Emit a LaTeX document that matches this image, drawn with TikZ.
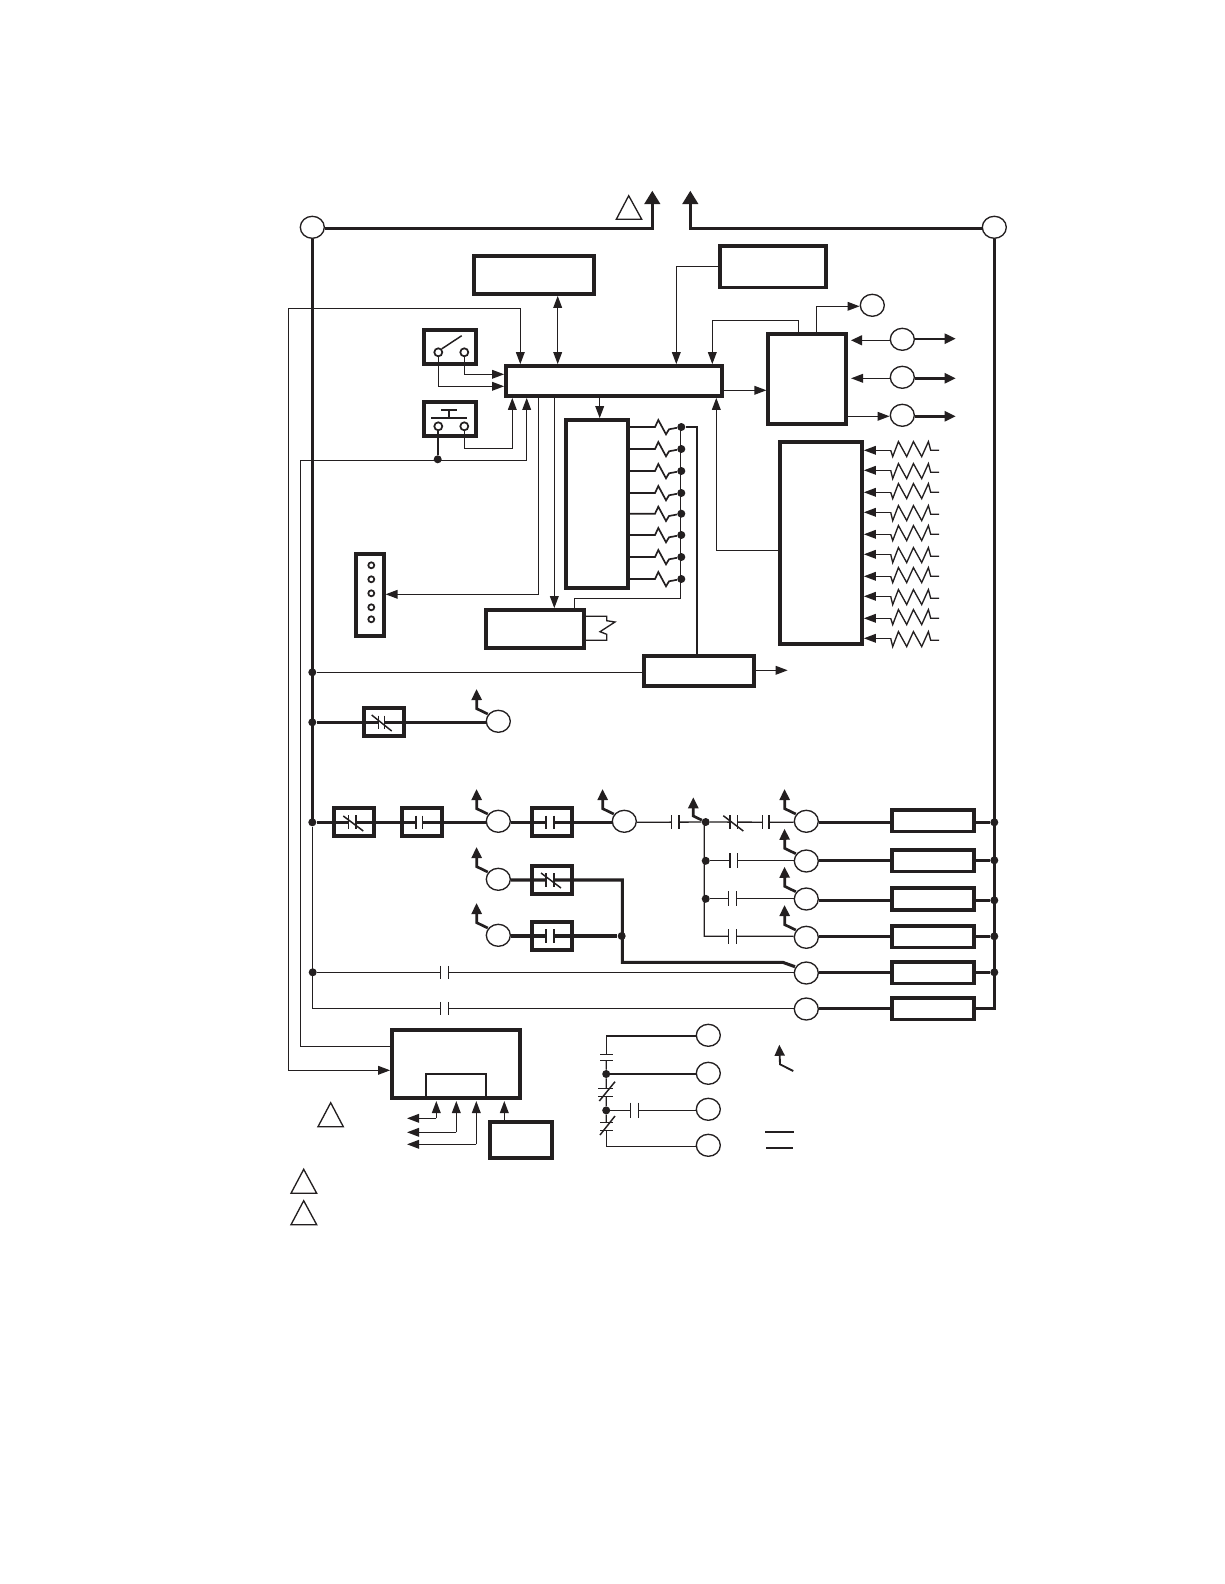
\documentclass[tikz,border=0pt]{standalone}
\usetikzlibrary{arrows.meta,calc,shapes.geometric}
\definecolor{ink}{HTML}{231F20}
\tikzset{
  thinw/.style={line width=1pt,line join=miter},
  midw/.style={line width=1.25pt},
  busw/.style={line width=2.3pt,line join=miter},
  tipsm/.tip={Triangle[length=9pt,width=6.5pt]},
  tipbig/.tip={Triangle[length=10pt,width=11.5pt]},
  tipmid/.tip={Triangle[length=8.3pt,width=7.5pt]},
  hbox/.style={draw=ink,line width=2.8pt,inner sep=0pt,rectangle},
  rbox/.style={draw=ink,line width=2.5pt,inner sep=0pt,rectangle},
  inbox/.style={draw=ink,line width=1.3pt,inner sep=0pt,rectangle},
  term/.style={ellipse,draw=ink,line width=1pt,fill=white,inner sep=0pt,minimum width=18pt,minimum height=16.5pt},
  pin/.style={circle,draw=ink,line width=1.3pt,fill=white,inner sep=0pt,minimum size=6pt},
  cpin/.style={circle,draw=ink,line width=1.3pt,fill=white,inner sep=0pt,minimum size=4.5pt},
  jdot/.style={circle,fill=ink,inner sep=0pt,minimum size=6pt},
  ctc/.style={line width=1.1pt},
  slash/.style={line width=1.1pt},
  tri/.style={draw=ink,line width=1pt,line join=miter}
}
\newcommand\boxnode[6]{\node[#1,minimum width={(#5-#3)*0.75pt},minimum height={(#6-#4)*0.75pt}] (#2) at ({(#3+#5)/2},{(#4+#6)/2}) {};}
% vertical-plate contact across a horizontal wire: x1 x2 y half-height
\newcommand\ctcv[4]{\fill[white] (#1,{#3-2.5}) rectangle (#2,{#3+2.5});
  \draw[ctc] (#1,{#3-#4}) -- (#1,{#3+#4}) (#2,{#3-#4}) -- (#2,{#3+#4});}
\newcommand\pigtail[1]{\draw[line width=2pt,line join=miter,-{tipmid}] ($(#1)+(-10.5,-7.3)$) -- ($(#1)+(-21.5,-12.6)$) -- ($(#1)+(-21.8,-32.3)$);}
\begin{document}
\begin{tikzpicture}[x=0.75pt,y=-0.75pt,color=ink]
\useasboundingbox (0,0) rectangle (1224,1584);
\fill[white] (0,0) rectangle (1224,1584);

% --- blocks
\boxnode{hbox}{display}{474}{256}{594}{294}
\boxnode{hbox}{eeprom}{720}{246}{826}{287.4}
\boxnode{hbox}{main}{506}{366}{722}{396}
\boxnode{rbox}{swa}{424}{330}{476}{364}
\boxnode{rbox}{swb}{424}{402}{476}{436}
\boxnode{hbox}{relay}{768.3}{334}{846}{423.7}
\boxnode{hbox}{inblk}{780}{442}{862}{644}
\boxnode{hbox}{drv}{566}{420}{627.7}{588}
\boxnode{hbox}{conn}{356}{554}{383.7}{636}
\boxnode{hbox}{lowbx}{486}{610}{584}{647.7}
\boxnode{hbox}{xfmr}{644}{656}{754}{685.7}
\boxnode{rbox}{kzero}{364}{708}{404}{736}
\boxnode{rbox}{ka}{334}{808}{374}{836}
\boxnode{rbox}{kb}{402}{808}{442}{836}
\boxnode{rbox}{kc}{532}{808}{572}{836}
\boxnode{rbox}{kd}{532}{866}{572}{894}
\boxnode{rbox}{ke}{532}{922}{572}{950}
\boxnode{hbox}{batt}{392}{1030}{519.7}{1098}
\boxnode{inbox}{inner}{426}{1074}{486}{1097}
\boxnode{hbox}{small}{490}{1122}{552}{1158}
\foreach \n/\ya/\yb in {h1/810/831.7,h2/850/871.7,h3/888/910,h4/926/947.7,h5/962/983.7,h6/998/1019.7}
  {\boxnode{rbox}{\n}{892}{\ya}{974}{\yb}}

% --- terminals
\node[term] (tl) at (312.3,227.3) {};
\node[term] (tr) at (994.3,227.3) {};
\node[term] (ra) at (872.3,305.3) {};
\node[term] (rb) at (902.3,339.3) {};
\node[term] (rc) at (902.3,377.3) {};
\node[term] (rd) at (902.3,415.3) {};
\node[term] (c0) at (498.3,721.3) {};
\node[term] (c1) at (498.3,821.3) {};
\node[term] (c2) at (624.3,821.3) {};
\node[term] (c3) at (498.3,879.3) {};
\node[term] (c4) at (498.3,935.3) {};
\node[term] (m1) at (806.3,821.3) {};
\node[term] (m2) at (806.3,861) {};
\node[term] (m3) at (806.3,899) {};
\node[term] (m4) at (806.3,937.3) {};
\node[term] (m5) at (806.3,973) {};
\node[term] (m6) at (806.3,1009) {};
\node[term] (l1) at (708.3,1035.3) {};
\node[term] (l2) at (708.3,1073.3) {};
\node[term] (l3) at (708.3,1109.3) {};
\node[term] (l4) at (708.3,1145.3) {};

% --- pins
\node[pin] (swa1) at (438.3,352.3) {};
\node[pin] (swa2) at (464.3,352.3) {};
\node[pin] (swb1) at (438.3,426.3) {};
\node[pin] (swb2) at (464.3,426.3) {};
\foreach \y in {565.3,579.3,593.3,607.3,619.3} \node[cpin] at (371.3,\y) {};

% --- junctions
\node[jdot] (ja) at (312.3,672.3) {};
\node[jdot] (jb) at (312.3,722.3) {};
\node[jdot] (jc) at (312.3,822.3) {};
\node[jdot] (jd) at (312.7,972.3) {};
\node[jdot] (je) at (437.7,459.3) {};
\node[jdot] (jf) at (621.7,936) {};
\node[jdot] (jg) at (705.7,822) {};
\node[jdot] (jh) at (705.7,860.8) {};
\node[jdot] (ji) at (705.7,898.8) {};
\node[jdot] (jl2) at (606.2,1074) {};
\node[jdot] (jl3) at (606.2,1110.4) {};
\foreach \y/\n in {822.3/r1,860.3/r2,900.3/r3,936.3/r4,972.3/r5} \node[jdot] (\n) at (994.3,\y) {};

% --- power buses
\coordinate (topl) at (652.3,190.7);
\coordinate (topr) at (690.3,190.7);
\draw[busw,-{tipbig}] (tl.east |- 0,228.3) -- (652.3,228.3) -- (topl);
\draw[busw,-{tipbig}] (tr.west |- 0,228.3) -- (690.3,228.3) -- (topr);
\draw[busw] (tl.south) -- (jc.center);
\draw[busw] (tr.south -| 994.7,0) -- (994.7,1009.5);

% --- rails and rungs
\draw[busw] (jb) -- (c0.west |- jb);
\draw[busw] (jc) -- (c1.west |- jc);
\draw[busw] (c1.east |- jc) -- (c2.west |- jc);
\draw[thinw] (jc) -- (312.3,1008.3) -- (m6.west |- 0,1008.3);
\draw[thinw] (ja) -- (xfmr.west |- ja);
\draw[thinw] (jd) -- (m5.west |- jd);
\draw[thinw] (c2.east |- jc) -- (jg) -- (m1.west |- jc);
\draw[thinw] (jg.center) ++(-1.4,0) -- (704.3,936.3) -- (m4.west |- 0,936.3);
\draw[thinw] (jh) -- (m2.west |- jh);
\draw[thinw] (ji) -- (m3.west |- ji);
\draw[busw] (c3.east |- 0,880) -- (622.3,880) -- (622.3,962.3) -- (782.7,962.3) -- (795,966.7);
\draw[busw] (c4.east |- jf) -- (jf);
\foreach \m/\b/\y/\r in {m1/h1/822.3/r1,m2/h2/860.3/r2,m3/h3/900.3/r3,m4/h4/936.3/r4,m5/h5/972.3/r5}{
  \draw[busw] (\m.east |- 0,\y) -- (\b.west |- 0,\y);
  \draw[busw] (\b.east |- 0,\y) -- (\r);
}
\draw[busw] (m6.east |- 0,1008.3) -- (h6.west |- 0,1008.3);
\draw[busw] (h6.east |- 0,1008.3) -- (994.7,1008.3);

% --- contacts
\ctcv{378.3}{384.3}{722.3}{6.8}
\draw[slash] (371.7,715) -- (391.7,731);
\ctcv{348.3}{356}{822.3}{7}
\draw[slash] (343.3,816) -- (363.3,831);
\ctcv{416}{422.7}{822.3}{6.8}
\ctcv{546}{554}{822.3}{6.8}
\ctcv{546}{554}{880}{6.8}
\draw[slash] (541,873) -- (561,888);
\ctcv{546}{554}{936}{6.8}
\ctcv{440.7}{448.7}{972.3}{6.4}
\ctcv{440.7}{448.7}{1008.3}{6.4}
\ctcv{671.7}{679}{822.3}{7}
\ctcv{730}{737.3}{822.3}{7}
\draw[slash] (723.3,815.7) -- (743.3,831);
\ctcv{762.3}{769}{822.3}{7}
\ctcv{730}{737.3}{860.3}{7.3}
\ctcv{728.3}{736.7}{898.6}{7.3}
\ctcv{728.3}{736.7}{936.3}{7.3}

% --- pigtail arrows
\pigtail{c0}\pigtail{c1}\pigtail{c2}\pigtail{c3}\pigtail{c4}
\pigtail{m1}\pigtail{m2}\pigtail{m3}\pigtail{m4}
\draw[line width=2pt,line join=miter,-{tipmid}] (jg) -- (693.3,816) -- (693.3,797.3);

% --- top section wiring
\draw[thinw,{tipsm}-{tipsm}] (557.7,0 |- display.south) -- (557.7,0 |- main.north);
\draw[thinw,-{tipsm}] (288.3,1070.3) -- (288.3,308.3) -- (520.3,308.3) -- (520.3,0 |- main.north);
\draw[thinw,-{tipsm}] (288.3,1070.3) -- (batt.west |- 0,1070.3);
\draw[thinw,-{tipsm}] (swa2.south) -- (464.3,374.3) -- (main.west |- 0,374.3);
\draw[thinw,-{tipsm}] (swa1.south) -- (438.3,386.3) -- (main.west |- 0,386.3);
\draw[line width=1.1pt] (swa1.north east) -- (461.7,335.7);
\draw[line width=1.8pt] (swb1.south -| je) -- (je);
\draw[thinw,-{tipsm}] (swb2.south) -- (464.3,448.3) -- (512.3,448.3) -- (512.3,0 |- main.south);
\draw[thinw,-{tipsm}] (batt.west |- 0,1046.3) -- (300.7,1046.3) -- (300.7,460.3) -- (526.7,460.3) -- (526.7,0 |- main.south);
\draw[line width=1.2pt] (431,417.7) -- (467,417.7) (449,417.7) -- (449,410) (441,410) -- (457,410);
\draw[thinw,-{tipsm}] (eeprom.west |- 0,266.3) -- (676.3,266.3) -- (676.3,0 |- main.north);
\draw[thinw,-{tipsm}] (798.7,0 |- relay.north) -- (798.7,320.3) -- (712.3,320.3) -- (712.3,0 |- main.north);
\draw[thinw,-{tipsm}] (816.3,0 |- relay.north) -- (816.3,306.3) -- (ra.west |- 0,306.3);
\draw[thinw,-{tipsm}] (main.east |- 0,390.3) -- (relay.west |- 0,390.3);
\draw[thinw,-{tipmid}] (rb.west |- 0,340.3) -- (851,340.3);
\draw[thinw,-{tipsm}] (rc.west |- 0,378.3) -- (851,378.3);
\draw[thinw,-{tipsm}] (relay.east |- 0,416.3) -- (rd.west |- 0,416.3);
\foreach \t/\y in {rb/338.7,rc/378.3,rd/416.3}
  \draw[line width=1.8pt,-{tipmid}] (\t.east |- 0,\y) -- (955.7,\y);

\draw[thinw,-{tipsm}] (599.7,0 |- main.south) -- (599.7,0 |- drv.north);
\draw[thinw,-{tipsm}] (538.3,0 |- main.south) -- (538.3,594.3) -- (conn.east |- 0,594.3);
\draw[thinw,-{tipsm}] (554.3,0 |- main.south) -- (554.3,0 |- lowbx.north);
\draw[thinw,-{tipsm}] (inblk.west |- 0,550.3) -- (716.3,550.3) -- (716.3,0 |- main.south);
\draw[thinw,-{tipsm}] (xfmr.east |- 0,670.3) -- (787.7,670.3);

% --- driver resistors
\foreach \y [count=\i] in {427,449,471,493,513.7,535,557,579}{
  \node[jdot] (sd\i) at (681.3,\y) {};
  \draw[midw] (drv.east |- 0,\y) -- (655,\y) -- ++(3.3,-7) -- ++(7.7,14.3) -- ++(3,-5) -- (sd\i);
}
\draw[thinw] (sd1.center) ++(-0.6,0) -- (680.7,598.3) -- (574.3,598.3) -- (574.3,0 |- lowbx.north);
\draw[line width=1.3pt] (sd1) -- (697.3,427) -- (697.3,0 |- xfmr.north);

% --- input resistors: \y is the arrow row, \s the row of the zigzag
\foreach \y/\s [count=\i] in {450.3/450.3,470.3/472.3,492.3/492.3,512.3/514.3,534.3/534.3,554.3/556.3,576.3/576.3,596.3/598.3,618.3/618.3,638.3/640.3}{
  \coordinate (ir\i) at (890.7,\y);
  \draw[thinw,-{tipsm}] (ir\i) -- (inblk.east |- ir\i);
  \draw[line width=1pt] (ir\i) -- (892.7,{\s+6.3}) -- ++(5.7,-15) -- ++(8.3,15) -- ++(6.7,-15) -- ++(8.3,15) -- ++(6.7,-15) -- ++(2.3,8.7) -- ++(8.3,0);
}

% --- low box loop
\draw[thinw] (lowbx.east |- 0,616.3) -- (606.7,616.3) -- (606.7,620.7) -- (615,622) -- (600,631.7) -- (606.7,634.3) -- (606.7,640.3) -- (lowbx.east |- 0,640.3);

% --- battery block arrows
\draw[thinw,-{tipsm}] (436.3,1118.3) -- (436.3,1101);
\draw[thinw,-{tipsm}] (436.3,1118.3) -- (407,1118.3);
\draw[thinw,-{tipsm}] (456.3,1132.3) -- (456.3,1101);
\draw[thinw,-{tipsm}] (456.3,1132.3) -- (407,1132.3);
\draw[thinw,-{tipsm}] (476.3,1144.3) -- (476.3,1101);
\draw[thinw,-{tipsm}] (476.3,1144.3) -- (407,1144.3);
\draw[thinw,-{tipsm}] (504.3,0 |- small.north) -- (504.3,1101);

% --- ladder at the bottom
\draw[thinw] (l1.west |- 0,1036) -- (606.3,1036) -- (606.3,1054.3);
\draw[thinw] (606.3,1060.3) -- (jl2);
\draw[thinw] (jl2) -- (l2.west |- jl2);
\draw[thinw] (jl2) -- (606.3,1088.3);
\draw[thinw] (606.3,1096.3) -- (jl3);
\draw[thinw] (jl3) -- (l3.west |- jl3);
\draw[thinw] (jl3) -- (606.3,1122.3);
\draw[thinw] (606.3,1130.3) -- (606.3,1146.3) -- (l4.west |- 0,1146.3);
\draw[ctc] (600,1054.3) -- (613.3,1054.3) (600,1060.3) -- (613.3,1060.3);
\draw[ctc] (598.3,1088.3) -- (613.3,1088.3) (598.3,1096.3) -- (613.3,1096.3);
\draw[slash] (599.3,1101) -- (615,1081.7);
\draw[ctc] (600,1122.3) -- (613.3,1122.3) (600,1130.3) -- (613.3,1130.3);
\draw[slash] (600,1135) -- (615,1116);
\ctcv{630.7}{638.7}{1110.4}{7.7}

% --- legend
\draw[line width=1.4pt,line join=miter,-{tipmid}] (793.3,1071) -- (780,1064.3) -- (779.3,1044.7);
\draw[line width=1.2pt] (765,1132) -- (794,1132) (766,1147.7) -- (793,1147.7);

% --- triangles
\draw[tri] (628.7,195.7) -- (616.3,219.3) -- (641.7,219.3) -- cycle;
\draw[tri] (330.7,1102.7) -- (318,1126.7) -- (343.3,1126.7) -- cycle;
\draw[tri] (303.7,1169.3) -- (291,1193.3) -- (316.7,1193.3) -- cycle;
\draw[tri] (303.7,1200.7) -- (291,1224.7) -- (316.7,1224.7) -- cycle;
\end{tikzpicture}
\end{document}
